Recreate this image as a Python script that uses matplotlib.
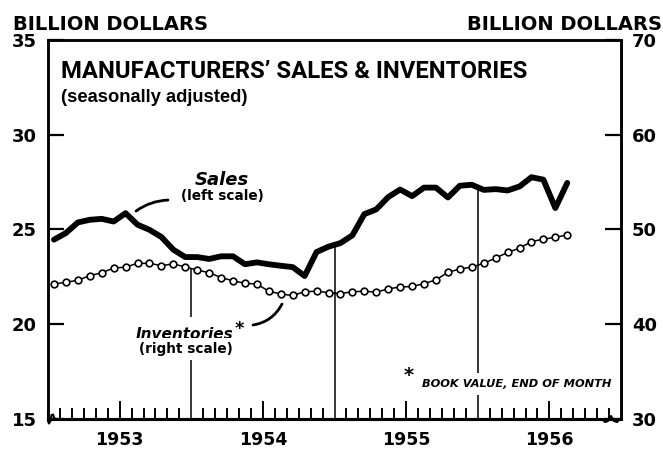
import numpy as np
import matplotlib
matplotlib.use("Agg")
import matplotlib.pyplot as plt
from matplotlib.lines import Line2D

# ---------------- data ----------------
months = np.arange(44)  # monthly, Jan 1953 .. Aug 1956
sales = [24.45, 24.8, 25.36, 25.5, 25.55, 25.41, 25.85, 25.24, 24.97, 24.59,
         23.92, 23.53, 23.53, 23.43, 23.57, 23.57, 23.15, 23.25, 23.15, 23.07,
         23.0, 22.53, 23.8, 24.08, 24.27, 24.68, 25.8, 26.05, 26.7, 27.1,
         26.75, 27.2, 27.2, 26.68, 27.3, 27.35, 27.08, 27.12, 27.05, 27.26,
         27.75, 27.62, 26.12, 27.45]  # left scale
inventories = [44.2, 44.4, 44.6, 45.1, 45.4, 45.9, 46.0, 46.4, 46.4, 46.15,
               46.35, 46.0, 45.7, 45.4, 44.9, 44.55, 44.3, 44.2, 43.45, 43.15,
               43.0, 43.4, 43.45, 43.3, 43.2, 43.4, 43.45, 43.35, 43.7, 43.9,
               43.95, 44.25, 44.65, 45.45, 45.8, 46.0, 46.4, 46.95, 47.55, 48.0,
               48.7, 48.95, 49.15, 49.4]  # right scale
years = [1953, 1954, 1955, 1956]
year_labels = ["1953", "1954", "1955", "1956"]
left_ticks = [15, 20, 25, 30, 35]
right_ticks = [30, 40, 50, 60, 70]

W, H = 663, 449
def fx(px):
    return px / W
def fy(py):
    return 1 - py / H

x = 1953 + (months + 0.5) / 12.0

fig = plt.figure(figsize=(W / 100, H / 100), dpi=100)
ax = fig.add_axes([fx(48), fy(418.5), fx(621) - fx(48), fy(40) - fy(418.5)])
ax.set_xlim(1953, 1957)
ax.set_ylim(15, 35)
ax2 = ax.twinx()
ax2.set_ylim(30, 70)

def dx(px):
    return 1953.0 + (px - 48) / 143.25
def dy(py):
    return 15 + (418.5 - py) / 18.93

num_font = dict(family="DejaVu Sans", weight="bold")

# spines
for a in (ax, ax2):
    for s in a.spines.values():
        s.set_linewidth(1.8)
    a.spines["bottom"].set_linewidth(2.2)

# small break squiggles at the bottom corners (decoration)
fig.add_artist(Line2D([fx(48), fx(48), fx(49), fx(50.5), fx(51.5), fx(53),
                       fx(54.5), fx(57)],
                      [fy(410), fy(421), fy(423.5), fy(421), fy(415),
                       fy(414.5), fy(418.5), fy(419)],
                      color="black", lw=1.5, solid_joinstyle="round",
                      solid_capstyle="round"))
fig.add_artist(Line2D([fx(602), fx(605), fx(608), fx(611), fx(614),
                       fx(617), fx(620)],
                      [fy(419), fy(422), fy(421), fy(416), fy(421),
                       fy(422), fy(419)],
                      color="black", lw=1.5, solid_joinstyle="round",
                      solid_capstyle="round"))

# year separator lines up to the curves
sales_arr = np.array(sales)
inv_left = np.array(inventories) / 2.0
tops = [np.interp(1954, x, inv_left), np.interp(1955, x, sales_arr),
        np.interp(1956, x, sales_arr)]
ax.vlines([1954, 1955, 1956], 15, tops, color="black", lw=1.1, zorder=1)

# data
ax.plot(x, sales, color="black", lw=4.2, solid_joinstyle="round",
        solid_capstyle="round", zorder=3)
ax2.plot(x, inventories, color="black", lw=1.1, marker="o", ms=4.8,
         mfc="white", mec="black", mew=1.2, zorder=3)

# x ticks
ax.set_xticks([y + 0.5 for y in years])
ax.set_xticklabels(year_labels, fontsize=12.5, **num_font)
minor = [y + m / 12.0 for y in years for m in range(1, 12) if m != 6]
ax.set_xticks(minor, minor=True)
ax.tick_params(axis="x", which="major", direction="in", length=13, width=1.4,
               pad=9, top=False)
ax.tick_params(axis="x", which="minor", direction="in", length=8, width=1.4,
               top=False)

# y ticks
ax.set_yticks(left_ticks)
ax.set_yticklabels([str(v) for v in left_ticks], fontsize=13, **num_font)
ax.tick_params(axis="y", direction="in", length=11.5, width=1.6, pad=8,
               right=False)
ax2.set_yticks(right_ticks)
ax2.set_yticklabels([str(v) for v in right_ticks], fontsize=13, **num_font)
ax2.tick_params(axis="y", direction="in", length=11.5, width=1.6, pad=8)
ax2.tick_params(axis="x", which="both", top=False, bottom=False)

# texts
fig.text(fx(13), fy(30), "BILLION DOLLARS", ha="left", va="baseline",
         fontsize=14, **num_font)
fig.text(fx(662), fy(30), "BILLION DOLLARS", ha="right", va="baseline",
         fontsize=14, **num_font)
fig.text(fx(61), fy(78), "MANUFACTURERS\u2019 SALES & INVENTORIES", ha="left",
         va="baseline", fontsize=17.2, family="Roboto", weight="bold")
fig.text(fx(61), fy(101.5), "(seasonally adjusted)", ha="left", va="baseline",
         fontsize=13.2, family="Liberation Sans", weight="bold")

lab = dict(family="DejaVu Sans", weight="bold", zorder=5)
fig.text(fx(222), fy(185), "Sales", ha="center", va="baseline", fontsize=13,
         style="italic", **lab)
fig.text(fx(222), fy(199.5), "(left scale)", ha="center", va="baseline",
         fontsize=9.8, **lab)
ax.text(dx(185), dy(339), "Inventories", ha="center", va="baseline",
        fontsize=11, style="italic",
        bbox=dict(facecolor="white", edgecolor="none", pad=7), **lab)
ax.text(dx(239), dy(329), "*", ha="center", va="center", fontsize=13, **lab)
ax.text(dx(186), dy(353), "(right scale)", ha="center", va="baseline",
        fontsize=9.8, bbox=dict(facecolor="white", edgecolor="none", pad=3),
        **lab)
ax.text(dx(409), dy(375), "*", ha="center", va="center", fontsize=14, **lab)
ax.text(dx(422), dy(387), "BOOK VALUE, END OF MONTH", ha="left",
        va="baseline", fontsize=8.2, style="italic",
        bbox=dict(facecolor="white", edgecolor="none", pad=4), **lab)

# leader lines
ax.annotate("", xy=(dx(136), dy(211)), xycoords="data",
            xytext=(dx(168), dy(200)), textcoords="data",
            arrowprops=dict(arrowstyle="-", lw=2.0, color="black",
                            connectionstyle="arc3,rad=0.15",
                            shrinkA=0, shrinkB=0))
ax.annotate("", xy=(dx(282), dy(304)), xycoords="data",
            xytext=(dx(253), dy(325)), textcoords="data",
            arrowprops=dict(arrowstyle="-", lw=2.0, color="black",
                            connectionstyle="arc3,rad=0.25",
                            shrinkA=0, shrinkB=0))

fig.savefig("out.png", dpi=100)
